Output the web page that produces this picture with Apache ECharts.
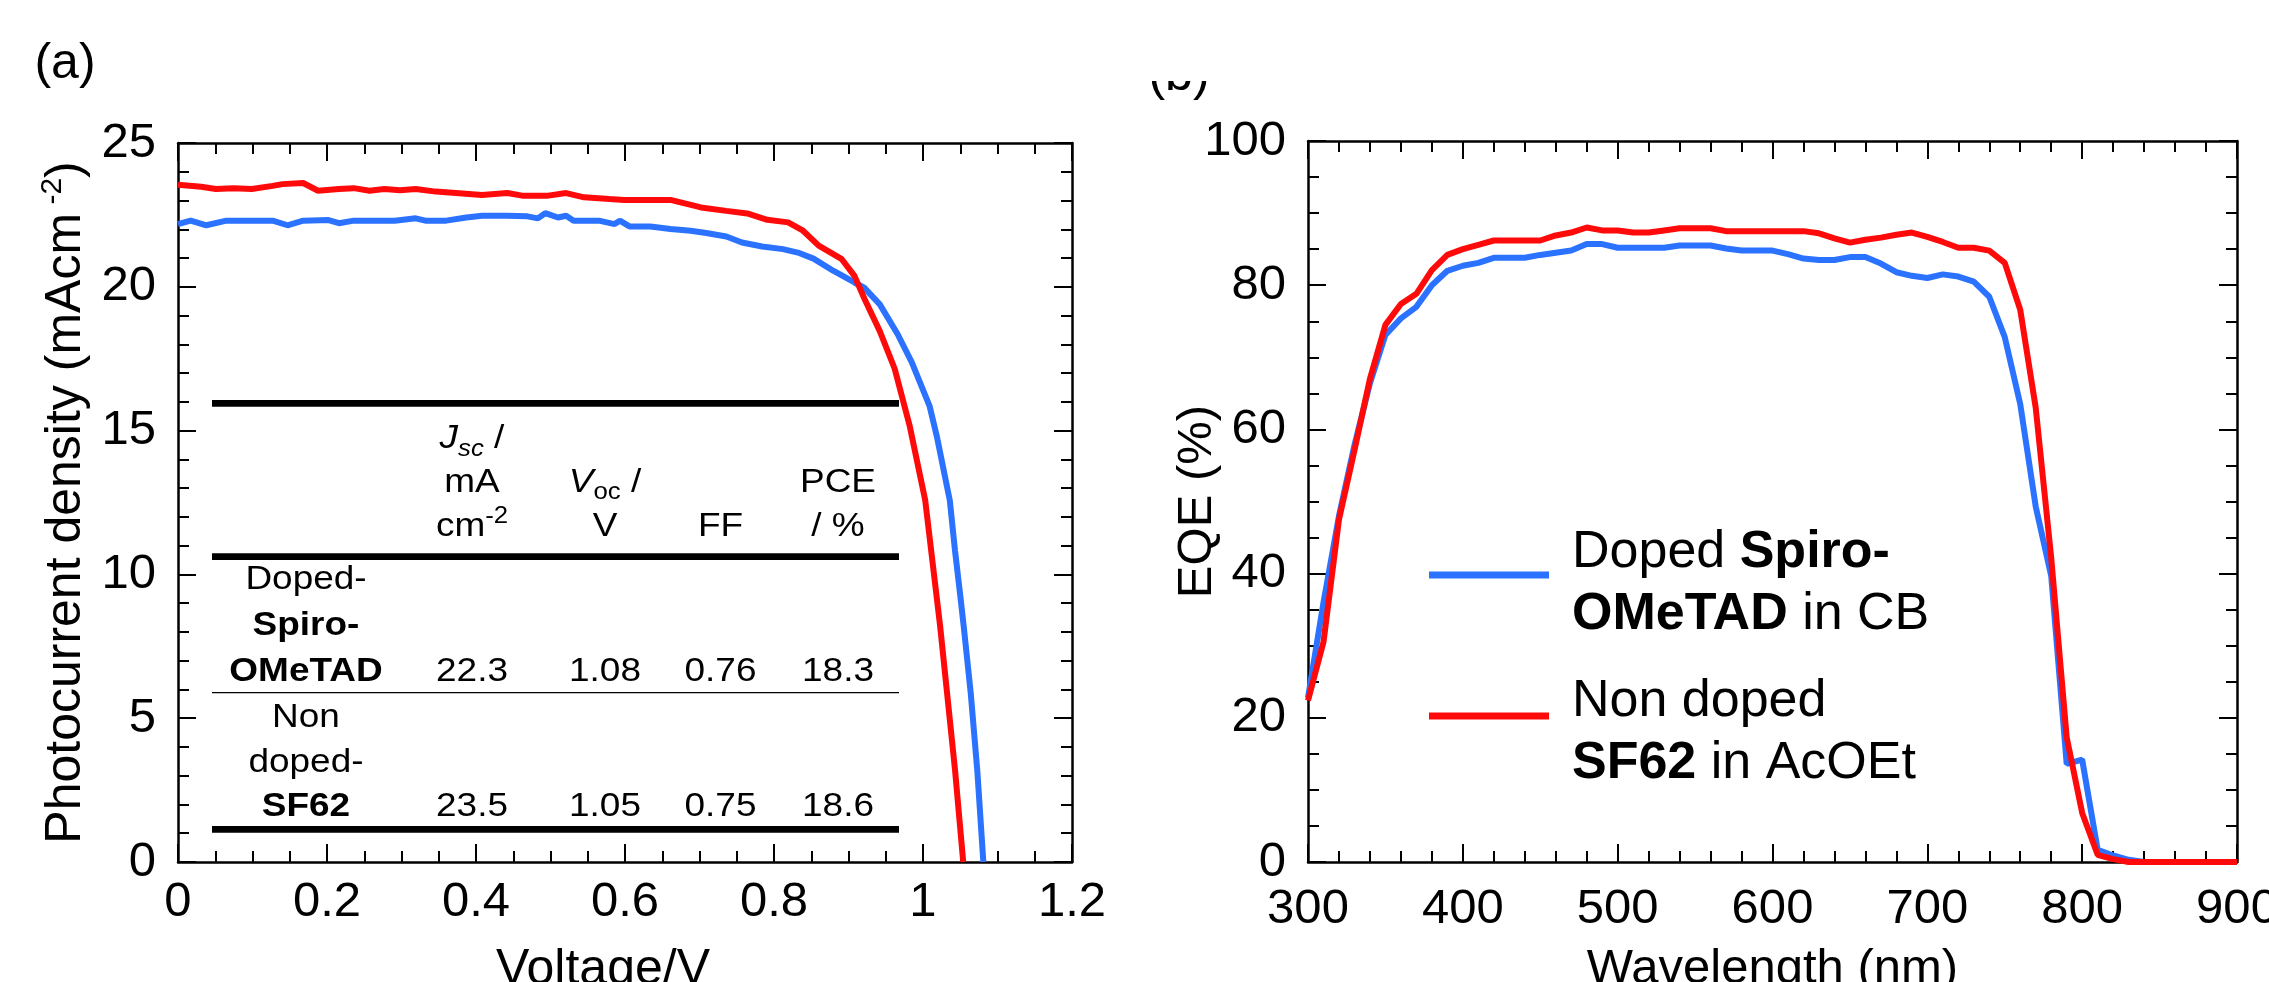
<!DOCTYPE html>
<html>
<head>
<meta charset="utf-8">
<script src="https://cdn.jsdelivr.net/npm/echarts@6/dist/echarts.min.js"></script>
<style>
html,body{margin:0;padding:0;background:#fff;}
#chart{width:2269px;height:982px;}
</style>
</head>
<body>
<div id="chart"></div>
<script>
// ---------------- DATA ----------------
// (a) J-V curves
const jvSpiroV = [0, 0.017, 0.038, 0.065, 0.099, 0.127, 0.147, 0.168, 0.202, 0.216, 0.236, 0.291, 0.319, 0.332, 0.36, 0.387, 0.408, 0.442, 0.469, 0.483, 0.493, 0.51, 0.521, 0.531, 0.565, 0.586, 0.593, 0.606, 0.634, 0.661, 0.688, 0.709, 0.736, 0.757, 0.784, 0.812, 0.832, 0.853, 0.88, 0.908, 0.921, 0.942, 0.966, 0.985, 1.009, 1.019, 1.036, 1.043, 1.05, 1.0545, 1.064, 1.073, 1.081];
const jvSpiroJ = [22.18, 22.30, 22.14, 22.30, 22.30, 22.30, 22.14, 22.30, 22.32, 22.21, 22.30, 22.30, 22.38, 22.30, 22.30, 22.41, 22.47, 22.47, 22.45, 22.38, 22.56, 22.41, 22.47, 22.30, 22.30, 22.18, 22.30, 22.10, 22.10, 22.01, 21.95, 21.87, 21.75, 21.54, 21.40, 21.31, 21.19, 20.98, 20.55, 20.15, 19.97, 19.39, 18.35, 17.37, 15.84, 14.75, 12.57, 10.82, 9.27, 8.23, 5.89, 3.14, 0];
const jvSF62V = [0, 0.031, 0.051, 0.075, 0.099, 0.127, 0.14, 0.168, 0.188, 0.216, 0.236, 0.257, 0.277, 0.298, 0.319, 0.346, 0.373, 0.408, 0.442, 0.462, 0.497, 0.521, 0.545, 0.579, 0.599, 0.661, 0.702, 0.736, 0.764, 0.791, 0.819, 0.839, 0.86, 0.891, 0.908, 0.922, 0.942, 0.962, 0.982, 1.003, 1.023, 1.043, 1.054];
const jvSF62J = [23.55, 23.48, 23.40, 23.43, 23.40, 23.51, 23.57, 23.61, 23.34, 23.40, 23.43, 23.34, 23.40, 23.36, 23.40, 23.31, 23.26, 23.19, 23.26, 23.17, 23.17, 23.26, 23.11, 23.05, 23.02, 23.02, 22.76, 22.64, 22.55, 22.33, 22.24, 21.95, 21.43, 20.96, 20.38, 19.55, 18.46, 17.15, 15.18, 12.57, 8.2, 3.2, 0];

// (b) EQE spectra
const eqeWavelength = [300, 310, 320, 330, 340, 350, 360, 370, 380, 390, 400, 410, 420, 430, 440, 450, 460, 470, 480, 490, 500, 510, 520, 530, 540, 550, 560, 570, 580, 590, 600, 610, 620, 630, 640, 650, 660, 670, 680, 690, 700, 710, 720, 730, 740, 750, 760, 770, 780, 790, 800, 810, 820, 830, 840, 850, 860, 870, 880, 890, 900];
const eqeSpiro = [22.8, 36.0, 48.0, 57.8, 66.4, 73.1, 75.4, 77.0, 80.0, 82.0, 82.7, 83.1, 83.8, 83.8, 83.8, 84.2, 84.5, 84.8, 85.7, 85.7, 85.2, 85.2, 85.2, 85.2, 85.5, 85.5, 85.5, 85.1, 84.8, 84.8, 84.8, 84.3, 83.7, 83.5, 83.5, 83.9, 83.9, 83.0, 81.8, 81.3, 81.0, 81.5, 81.2, 80.5, 78.4, 72.8, 63.5, 49.3, 39.7, 13.6, 14.2, 1.7, 0.9, 0.3, 0, 0, 0, 0, 0, 0, 0];
const eqeSF62 = [22.4, 30.5, 47.5, 57.1, 67.0, 74.5, 77.4, 78.8, 82.1, 84.2, 85.0, 85.6, 86.2, 86.2, 86.2, 86.2, 86.9, 87.3, 88.0, 87.6, 87.6, 87.3, 87.3, 87.6, 87.9, 87.9, 87.9, 87.5, 87.5, 87.5, 87.5, 87.5, 87.5, 87.2, 86.5, 85.9, 86.3, 86.6, 87.0, 87.3, 86.7, 86.0, 85.2, 85.2, 84.8, 83.1, 76.6, 63.0, 42.2, 17.3, 6.8, 1.0, 0.4, 0, 0, 0, 0, 0, 0, 0, 0];

// tick labels
const jvVoltTicks = [0, 0.2, 0.4, 0.6, 0.8, 1, 1.2];
const jvCurrentTicks = [0, 5, 10, 15, 20, 25];
const eqeWlTicks = [300, 400, 500, 600, 700, 800, 900];
const eqePctTicks = [0, 20, 40, 60, 80, 100];

// table inset (a)
const tableRowSpiro = ['Doped-', 'Spiro-', 'OMeTAD'];
const tableRowSF62 = ['Non', 'doped-', 'SF62'];
const cellsSpiro = ['22.3', '1.08', '0.76', '18.3'];
const cellsSF62 = ['23.5', '1.05', '0.75', '18.6'];

const nameSpiro = 'Doped Spiro-OMeTAD in CB';
const nameSF62 = 'Non doped SF62 in AcOEt';

// ---------------- STYLE ----------------
const FONT = "'Liberation Sans', Arial, Helvetica, sans-serif";
const BLUE = '#2A72FF';
const RED = '#FF0A0A';
const LW = 6;

function axisBase(ticks, minorSplit) {
  return {
    type: 'value',
    min: ticks[0],
    max: ticks[ticks.length - 1],
    interval: ticks[1] - ticks[0],
    nameMoveOverlap: false,
    axisLine: { show: true, onZero: false, lineStyle: { color: '#000', width: 2.5 } },
    axisTick: { show: true, inside: true, length: 18, lineStyle: { color: '#000', width: 2 } },
    minorTick: { show: true, splitNumber: minorSplit, length: 11, lineStyle: { color: '#000', width: 2 } },
    splitLine: { show: false },
    minorSplitLine: { show: false }
  };
}
function lab(extra) {
  return Object.assign({ show: true, color: '#000', fontSize: 49, fontFamily: FONT }, extra);
}
function legendText(pad) {
  return {
    color: '#000', fontSize: 52, fontFamily: FONT, lineHeight: 62,
    padding: [pad, 0, 0, 0],
    rich: {
      sp: { width: 18, fontSize: 52, lineHeight: 62 },
      n: { fontSize: 52, fontFamily: FONT, color: '#000', lineHeight: 62 },
      b: { fontSize: 52, fontFamily: FONT, color: '#000', fontWeight: 'bold', lineHeight: 62 }
    }
  };
}
function legendFormatter(name) {
  if (name === nameSpiro) return '{sp| }{n|Doped }{b|Spiro-}\n{sp| }{b|OMeTAD}{n| in CB}';
  return '{sp| }{n|Non doped}\n{sp| }{b|SF62}{n| in AcOEt}';
}

const option = {
  backgroundColor: '#fff',
  animation: false,
  grid: [
    { left: 178, top: 143, width: 894, height: 719, outerBoundsMode: 'none', containLabel: false },
    { left: 1308, top: 141, width: 929, height: 721, outerBoundsMode: 'none', containLabel: false }
  ],
  xAxis: [
    Object.assign(axisBase(jvVoltTicks, 4), {
      gridIndex: 0, position: 'bottom',
      axisLabel: lab({ margin: 16 }),
      name: 'Voltage/V', nameLocation: 'middle', nameGap: 83,
      nameTextStyle: { color: '#000', fontSize: 50, fontFamily: FONT, padding: [0, 44, 0, 0] }
    }),
    Object.assign(axisBase(jvVoltTicks, 4), { gridIndex: 0, position: 'top', axisLabel: { show: false } }),
    Object.assign(axisBase(eqeWlTicks, 5), {
      gridIndex: 1, position: 'bottom',
      axisLabel: lab({ margin: 23 }),
      name: 'Wavelength (nm)', nameLocation: 'middle', nameGap: 83,
      nameTextStyle: { color: '#000', fontSize: 49, fontFamily: FONT }
    }),
    Object.assign(axisBase(eqeWlTicks, 5), { gridIndex: 1, position: 'top', axisLabel: { show: false } })
  ],
  yAxis: [
    Object.assign(axisBase(jvCurrentTicks, 5), {
      gridIndex: 0, position: 'left',
      axisLabel: lab({ margin: 22, padding: [0, 0, 14, 0] }),
      name: '{a|Photocurrent density (mAcm}{s| -2}{a|)}', nameLocation: 'middle', nameGap: 84, nameRotate: 90,
      nameTextStyle: {
        color: '#000', fontSize: 50, fontFamily: FONT,
        rich: {
          a: { fontSize: 50, fontFamily: FONT, color: '#000', lineHeight: 56 },
          s: { fontSize: 30, fontFamily: FONT, color: '#000', verticalAlign: 'top', lineHeight: 36 }
        }
      }
    }),
    Object.assign(axisBase(jvCurrentTicks, 5), { gridIndex: 0, position: 'right', axisLabel: { show: false } }),
    Object.assign(axisBase(eqePctTicks, 4), {
      gridIndex: 1, position: 'left',
      axisLabel: lab({ margin: 22, padding: [0, 0, 14, 0] }),
      name: 'EQE (%)', nameLocation: 'middle', nameGap: 86, nameRotate: 90,
      nameTextStyle: { color: '#000', fontSize: 49, fontFamily: FONT }
    }),
    Object.assign(axisBase(eqePctTicks, 4), { gridIndex: 1, position: 'right', axisLabel: { show: false } })
  ],
  legend: [
    {
      show: true, selectedMode: false, orient: 'vertical',
      left: 1424, top: 499, itemWidth: 120, itemHeight: 7,
      data: [{ name: nameSpiro, icon: 'rect' }],
      formatter: legendFormatter, textStyle: legendText(18)
    },
    {
      show: true, selectedMode: false, orient: 'vertical',
      left: 1424, top: 632, itemWidth: 120, itemHeight: 7,
      data: [{ name: nameSF62, icon: 'rect' }],
      formatter: legendFormatter, textStyle: legendText(34)
    }
  ],
  series: [
    {
      name: 'J-V ' + nameSpiro, type: 'line', xAxisIndex: 0, yAxisIndex: 0,
      data: jvSpiroV.map((v, i) => [v, jvSpiroJ[i]]),
      showSymbol: false, symbol: 'none', clip: true,
      lineStyle: { color: BLUE, width: LW }, itemStyle: { color: BLUE }, z: 3
    },
    {
      name: 'J-V ' + nameSF62, type: 'line', xAxisIndex: 0, yAxisIndex: 0,
      data: jvSF62V.map((v, i) => [v, jvSF62J[i]]),
      showSymbol: false, symbol: 'none', clip: true,
      lineStyle: { color: RED, width: LW }, itemStyle: { color: RED }, z: 4
    },
    {
      name: nameSpiro, type: 'line', xAxisIndex: 2, yAxisIndex: 2,
      data: eqeWavelength.map((w, i) => [w, eqeSpiro[i]]),
      showSymbol: false, symbol: 'none',
      lineStyle: { color: BLUE, width: LW }, itemStyle: { color: BLUE }, z: 3
    },
    {
      name: nameSF62, type: 'line', xAxisIndex: 2, yAxisIndex: 2,
      data: eqeWavelength.map((w, i) => [w, eqeSF62[i]]),
      showSymbol: false, symbol: 'none',
      lineStyle: { color: RED, width: LW }, itemStyle: { color: RED }, z: 4
    }
  ]
};

// ---------------- INSET TABLE + PANEL LABELS (graphic) ----------------
const TFS = 33, TSX = 1.12;
function ttext(x, y, text, bold, rich) {
  return {
    type: 'text', x: x, y: y, scaleX: TSX, z: 10,
    style: {
      text: text, fill: '#000', fontSize: TFS, fontFamily: FONT,
      fontWeight: bold ? 'bold' : 'normal',
      align: 'center', verticalAlign: 'middle',
      rich: rich || undefined
    }
  };
}
const subRich = {
  i: { fontSize: TFS, fontFamily: FONT, fontStyle: 'italic', fill: '#000', lineHeight: 44 },
  n: { fontSize: TFS, fontFamily: FONT, fill: '#000', lineHeight: 44 },
  sub: { fontSize: 23, fontFamily: FONT, fill: '#000', verticalAlign: 'bottom', lineHeight: 26 },
  subi: { fontSize: 23, fontFamily: FONT, fontStyle: 'italic', fill: '#000', verticalAlign: 'bottom', lineHeight: 26 },
  sup: { fontSize: 23, fontFamily: FONT, fill: '#000', verticalAlign: 'top', lineHeight: 26 }
};
const colX = [472, 605, 720.5, 838];
const labelX = 306;
const graphics = [];
// horizontal rules
[[403.3, 6.7], [556.7, 6.7], [692.7, 1.3], [829.3, 6.7]].forEach(function (r) {
  graphics.push({ type: 'line', z: 9, shape: { x1: 212, y1: r[0], x2: 899, y2: r[0] }, style: { stroke: '#000', lineWidth: r[1] } });
});
// header
graphics.push(ttext(colX[0], 439, '{i|J}{subi|sc}{n| /}', false, subRich));
graphics.push(ttext(colX[0], 482.5, 'mA'));
graphics.push(ttext(colX[0], 527, '{n|cm}{sup|-2}', false, subRich));
graphics.push(ttext(colX[1], 482.5, '{i|V}{sub|oc}{n| /}', false, subRich));
graphics.push(ttext(colX[1], 527, 'V'));
graphics.push(ttext(colX[2], 527, 'FF'));
graphics.push(ttext(colX[3], 482.5, 'PCE'));
graphics.push(ttext(colX[3], 527, '/ %'));
// rows
const rowSpiroY = [580, 626, 671.5];
const rowSF62Y = [718, 762.5, 807];
tableRowSpiro.forEach(function (t, i) { graphics.push(ttext(labelX, rowSpiroY[i], t, i > 0)); });
tableRowSF62.forEach(function (t, i) { graphics.push(ttext(labelX, rowSF62Y[i], t, i === 2)); });
cellsSpiro.forEach(function (t, i) { graphics.push(ttext(colX[i], rowSpiroY[2], t, false)); });
cellsSF62.forEach(function (t, i) { graphics.push(ttext(colX[i], rowSF62Y[2], t, false)); });
// panel labels
graphics.push({ type: 'text', x: 65, y: 64, z: 10, style: { text: '(a)', fill: '#000', fontSize: 50, fontFamily: FONT, align: 'center', verticalAlign: 'middle' } });
graphics.push({ type: 'text', x: 1179, y: 76, z: 10, style: { text: '(b)', fill: '#000', fontSize: 50, fontFamily: FONT, align: 'center', verticalAlign: 'middle' } });
graphics.push({ type: 'rect', z: 11, shape: { x: 1130, y: 0, width: 100, height: 81 }, style: { fill: '#fff' } });
option.graphic = graphics;

const chart = echarts.init(document.getElementById('chart'), null, { renderer: 'canvas', width: 2269, height: 982 });
chart.setOption(option);
</script>
</body>
</html>
